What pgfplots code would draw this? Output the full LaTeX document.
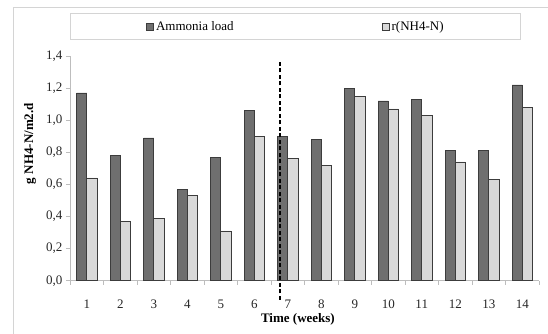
\documentclass[border=0pt]{standalone}
\usepackage{fontspec}
\setmainfont{Liberation Serif}
\usepackage{pgfplots}
\usepackage{pgfplotstable}
\pgfplotsset{compat=1.18}
\definecolor{darkbar}{HTML}{6F6F6F}
\definecolor{lightbar}{HTML}{D9D9D9}
\definecolor{baredge}{HTML}{3C3C3C}
\definecolor{axgray}{HTML}{BDBDBD}
\definecolor{framegray}{HTML}{D4D4D4}

\pgfplotstableread{
week load rate
1  1.17 0.64
2  0.78 0.37
3  0.89 0.39
4  0.57 0.53
5  0.77 0.31
6  1.06 0.90
7  0.90 0.76
8  0.88 0.72
9  1.20 1.15
10 1.12 1.07
11 1.13 1.03
12 0.81 0.74
13 0.81 0.63
14 1.22 1.08
}\datatable

\begin{document}
\begin{tikzpicture}[x=1pt,y=1pt]
\useasboundingbox (0,0) rectangle (548,334);
\draw[framegray, line width=0.9pt] (13,-10) -- (13,327) -- (560,327);
\begin{axis}[
  at={(70pt,53.3pt)}, anchor=south west,
  scale only axis, width=469pt, height=224.7pt,
  xmin=0.5, xmax=14.5, ymin=0, ymax=1.4,
  clip=false,
  axis x line*=bottom, axis y line*=left,
  axis line style={axgray, line width=0.8pt},
  xtick={1,...,14},
  major x tick style={draw=none},
  minor xtick={0.5,1.5,...,14.5},
  minor tick length=4pt,
  major tick length=4pt,
  tick align=outside,
  tick style={axgray, line width=0.8pt},
  ytick={0,0.2,0.4,0.6,0.8,1.0,1.2,1.4},
  yticklabel style={/pgf/number format/.cd, fixed, fixed zerofill, precision=1, use comma},
  /pgf/number format/assume math mode=true,
  ticklabel style={font=\fontsize{13}{15}\selectfont, text=black!85},
  xticklabel style={yshift=-12pt},
  xlabel={\textbf{Time (weeks)}},
  ylabel={\textbf{g NH4-N/m2.d}},
  every axis x label/.style={at={(axis description cs:0.486,0)}, anchor=center, yshift=-39pt, font=\fontsize{13}{15}\selectfont},
  every axis y label/.style={at={(axis description cs:-0.0853,0.61)}, rotate=90, anchor=center, font=\fontsize{13}{15}\selectfont},
  legend columns=2,
  legend style={at={(axis description cs:0,1.1927)}, anchor=north west,
    draw=framegray, line width=0.9pt, font=\fontsize{13}{15}\selectfont,
    inner xsep=76pt, inner ysep=6pt},
]
\addplot[ybar, bar width=0.3, bar shift=-0.15, fill=darkbar, draw=baredge, line width=0.6pt,
  legend image code/.code={\draw[fill=darkbar, draw=baredge, line width=0.6pt] (0pt,-3.5pt) rectangle (7pt,3.5pt);}]
  table[x=week, y=load] {\datatable};
\addlegendentry{\makebox[224pt][l]{Ammonia load}}
\addplot[ybar, bar width=0.3, bar shift=0.15, fill=lightbar, draw=baredge, line width=0.6pt,
  legend image code/.code={\draw[fill=lightbar, draw=baredge, line width=0.6pt] (0pt,-3.5pt) rectangle (7pt,3.5pt);}]
  table[x=week, y=rate] {\datatable};
\addlegendentry{\makebox[51pt][l]{r(NH4-N)}}
\addplot[black, line width=2pt, dash pattern=on 4pt off 2.5pt, forget plot]
  coordinates {(6.76,-0.12) (6.76,1.36)};
\end{axis}
\end{tikzpicture}
\end{document}
